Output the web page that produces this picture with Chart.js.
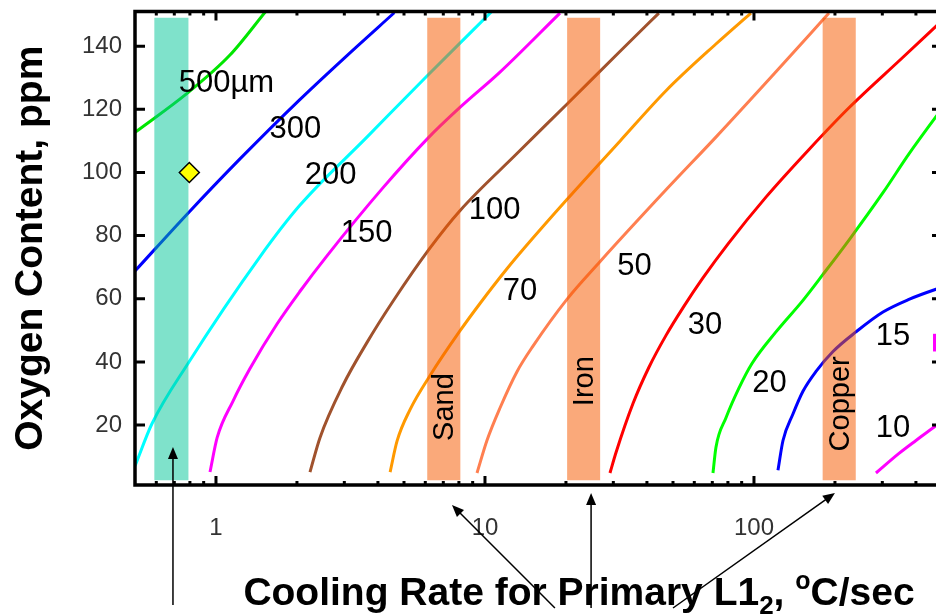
<!DOCTYPE html>
<html>
<head>
<meta charset="utf-8">
<script src="https://cdn.jsdelivr.net/npm/chart.js@4.4.1/dist/chart.umd.min.js"></script>
<style>
  html, body { margin: 0; padding: 0; background: #fff; overflow: hidden; }
  #wrap { width: 960px; height: 616px; }
</style>
</head>
<body>
<div id="wrap"><canvas id="sdasChart" width="960" height="616"></canvas></div>
<script>
// contour curves: cooling rate (°C/sec) vs oxygen content (ppm)
const curveNames = ['500µm', '300', '200', '150', '100', '70', '50', '30', '20', '15', '10'];

const rate500 = [0.5, 0.787, 1.127, 1.53];
const oxy500 = [112.7, 125.3, 137.2, 151];
const rate300 = [0.5, 0.787, 1.228, 2.05, 3.02, 4.6];
const oxy300 = [68.8, 87.1, 104.3, 123.1, 136.5, 150.6];
const rate200 = [0.5, 0.578, 0.787, 1.457, 2.05, 3.64, 6.14, 10.6];
const oxy200 = [7, 20.4, 39.5, 73.3, 89.6, 111.2, 130.9, 151];
const rate150 = [0.95, 1.01, 1.157, 1.338, 1.686, 2.05, 2.586, 4.18, 6.14, 8.07, 11.37, 19.0];
const oxy150 = [5.1, 16.0, 27.6, 37.9, 52.0, 62.3, 73.6, 95.2, 110.9, 120.6, 131.8, 150.5];
const rate100 = [2.236, 2.436, 2.966, 3.64, 4.55, 6.25, 8.07, 13.15, 20.2, 31.8, 44.3];
const oxy100 = [5.1, 16.0, 32.6, 46.1, 59.2, 76.1, 87.9, 106.0, 121.7, 138.4, 150.5];
const rate70 = [4.44, 4.71, 5.26, 6.25, 8.07, 9.58, 12.07, 14.08, 20.2, 31.8, 47.1, 72.2, 97.4];
const oxy70 = [5.1, 14.9, 24.8, 35.7, 49.8, 58.5, 69.5, 76.3, 91.5, 110.0, 125.9, 140.7, 150.5];
const rate50 = [9.34, 10.17, 11.37, 13.15, 15.08, 20.2, 26.8, 47.1, 72.2, 120.7, 190];
const oxy50 = [4.8, 15.1, 25.4, 36.9, 45.0, 59.9, 71.8, 94.5, 111.2, 131.9, 150.5];
const rate30 = [29.15, 30.7, 35.5, 40.7, 47.1, 54.5, 64.6, 80.1, 110.8, 160.2, 225.5, 358, 500];
const oxy30 = [4.8, 11.3, 26.8, 38.3, 48.4, 57.2, 66.6, 77.4, 92.2, 107.3, 120.5, 136.5, 148.1];
const rate20 = [70.4, 72.2, 78.7, 87.9, 98.3, 120.7, 152.1, 180.5, 225.5, 301.7, 376.8, 475, 500];
const oxy20 = [4.8, 12.9, 22.3, 31.7, 39.5, 49.5, 59.5, 67.7, 78.6, 93.6, 105.9, 117.7, 120.2];
const rate15 = [122.8, 128.2, 139.6, 152.1, 170.1, 196.7, 239.4, 301.7, 376.8, 475, 500];
const oxy15 = [5.7, 15.1, 23.5, 30.7, 37.0, 43.3, 49.5, 55.8, 59.8, 63.0, 63.6];
const rate10 = [284.1, 346, 400.1, 475, 500];
const oxy10 = [4.8, 11.0, 15.1, 19.8, 21.0];

// mould cooling-rate ranges
const bandNames = ['', 'Sand', 'Iron', 'Copper'];
const bandFrom = [0.59, 6.1, 20.2, 180];
const bandTo = [0.79, 8.1, 26.8, 239];
const bandLow = 2.5;
const bandHigh = 149;

// single measured point
const pointRate = [0.796];
const pointOxy = [100];

// axis ticks
const xTicks = [0.5, 0.6, 0.7, 0.8, 0.9, 1, 2, 3, 4, 5, 6, 7, 8, 9, 10, 20, 30, 40, 50, 60, 70, 80, 90, 100, 200, 300, 400, 500];
const xLabelTicks = [1, 10, 100];
const yTicks = [20, 40, 60, 80, 100, 120, 140];

const curveRates = [rate500, rate300, rate200, rate150, rate100, rate70, rate50, rate30, rate20, rate15, rate10];
const curveOxys = [oxy500, oxy300, oxy200, oxy150, oxy100, oxy70, oxy50, oxy30, oxy20, oxy15, oxy10];
const curveColors = ['#00e600', '#0000ff', '#00ffff', '#ff00ff', '#a0522d', '#ff9900', '#ff7f50', '#ff0000', '#00ff00', '#0000ff', '#ff00ff'];
const bandColors = ['rgba(0, 197, 151, 0.5)', 'rgba(246, 90, 0, 0.52)', 'rgba(246, 90, 0, 0.52)', 'rgba(246, 90, 0, 0.52)'];

const FONT = '"Liberation Sans", Arial, sans-serif';

// text notes, placed in data units
const curveNotePos = [[1.094, 128.1], [1.975, 113.7], [2.666, 99.0], [3.63, 80.8], [10.85, 88.0], [13.5, 62.3],
  [35.96, 70.2], [65.7, 51.7], [114.2, 33.2], [328.6, 48.0], [328.6, 18.8]];
const bandNoteOxy = [0, 25.7, 33.9, 26.7];
// arrows: [tail x, tail drop below axis px, tip x, tip drop below axis px]
const arrows = [[0.692, 120, 0.692, -38], [18.2, 123, 7.54, 20], [24.8, 123, 24.8, 8], [50.0, 123, 200, 8]];

function pts(xs, ys) {
  return xs.map((v, i) => ({ x: v, y: ys[i] }));
}

const datasets = [];

datasets.push({
  label: 'measured',
  data: pts(pointRate, pointOxy),
  showLine: false,
  pointStyle: 'rectRot',
  pointRadius: 10,
  pointBackgroundColor: '#ffff00',
  pointBorderColor: '#000',
  pointBorderWidth: 1.5,
  order: 0
});

bandNames.forEach((name, i) => {
  datasets.push({
    label: name || 'band',
    data: pts([bandFrom[i], bandTo[i], bandTo[i], bandFrom[i], bandFrom[i]],
              [bandLow, bandLow, bandHigh, bandHigh, bandLow]),
    fill: 'shape',
    backgroundColor: bandColors[i],
    borderColor: 'rgba(0,0,0,0)',
    borderWidth: 0,
    pointRadius: 0,
    tension: 0,
    order: 1
  });
});

curveNames.forEach((name, i) => {
  datasets.push({
    label: name,
    data: pts(curveRates[i], curveOxys[i]),
    borderColor: curveColors[i],
    borderWidth: 3,
    pointRadius: 0,
    fill: false,
    cubicInterpolationMode: 'monotone',
    order: 2
  });
});

function drawArrow(ctx, x0, y0, x1, y1) {
  const ang = Math.atan2(y1 - y0, x1 - x0);
  const head = 12, half = 5;
  const c = Math.cos(ang), s = Math.sin(ang);
  ctx.beginPath();
  ctx.moveTo(x0, y0);
  ctx.lineTo(x1 - head * c * 0.8, y1 - head * s * 0.8);
  ctx.stroke();
  ctx.beginPath();
  ctx.moveTo(x1, y1);
  ctx.lineTo(x1 - head * c + half * s, y1 - head * s - half * c);
  ctx.lineTo(x1 - head * c - half * s, y1 - head * s + half * c);
  ctx.closePath();
  ctx.fill();
}

const frameAndNotes = {
  id: 'frameAndNotes',
  afterDatasetsDraw(chart) {
    const { ctx, chartArea: a, scales: { x, y } } = chart;
    ctx.save();
    ctx.strokeStyle = '#000';
    ctx.lineWidth = 3;
    // inward ticks on all four sides
    x.ticks.forEach(t => {
      const px = x.getPixelForValue(t.value);
      if (px <= a.left + 2 || px >= a.right - 2) return;
      const len = xLabelTicks.includes(t.value) ? 9 : 4;
      ctx.beginPath();
      ctx.moveTo(px, a.bottom);
      ctx.lineTo(px, a.bottom - len);
      ctx.moveTo(px, a.top);
      ctx.lineTo(px, a.top + len);
      ctx.stroke();
    });
    y.ticks.forEach(t => {
      const py = y.getPixelForValue(t.value);
      ctx.beginPath();
      ctx.moveTo(a.left, py);
      ctx.lineTo(a.left + 10, py);
      ctx.moveTo(a.right, py);
      ctx.lineTo(a.right - 10, py);
      ctx.stroke();
    });
    ctx.lineWidth = 3.5;
    ctx.strokeRect(a.left, a.top, a.right - a.left, a.bottom - a.top);

    // cut-off magenta mark at right edge
    ctx.fillStyle = '#ff00ff';
    const mx = x.getPixelForValue(463), my = y.getPixelForValue(48.9);
    ctx.fillRect(mx, my, a.right - 2 - mx, y.getPixelForValue(43.3) - my);
    ctx.restore();
  },
  afterDraw(chart) {
    const { ctx, chartArea: a, scales: { x, y } } = chart;
    ctx.save();
    ctx.fillStyle = '#000';

    // curve labels
    ctx.font = '31px ' + FONT;
    ctx.textAlign = 'center';
    ctx.textBaseline = 'middle';
    curveNames.forEach((name, i) => {
      const p = curveNotePos[i];
      ctx.fillText(name, x.getPixelForValue(p[0]), y.getPixelForValue(p[1]));
    });

    // mould labels, rotated
    ctx.font = '29px ' + FONT;
    ctx.textBaseline = 'alphabetic';
    bandNames.forEach((name, i) => {
      if (!name) return;
      ctx.save();
      ctx.translate(x.getPixelForValue(bandTo[i]) - 7, y.getPixelForValue(bandNoteOxy[i]));
      ctx.rotate(-Math.PI / 2);
      ctx.fillText(name, 0, 0);
      ctx.restore();
    });

    // x axis title with subscript / superscript
    const parts = [
      { t: 'Cooling Rate for Primary L1', size: 39, dy: 0 },
      { t: '2', size: 26, dy: 9 },
      { t: ', ', size: 39, dy: 0 },
      { t: 'o', size: 25, dy: -16 },
      { t: 'C/sec', size: 39, dy: 0 }
    ];
    let total = 0;
    parts.forEach(p => {
      ctx.font = 'bold ' + p.size + 'px ' + FONT;
      p.w = ctx.measureText(p.t).width;
      total += p.w;
    });
    let cx = 579 - total / 2;
    ctx.textAlign = 'left';
    parts.forEach(p => {
      ctx.font = 'bold ' + p.size + 'px ' + FONT;
      ctx.fillText(p.t, cx, 605 + p.dy);
      cx += p.w;
    });

    // arrows pointing at the mould ranges
    ctx.strokeStyle = '#000';
    ctx.lineWidth = 1.5;
    arrows.forEach(ar => {
      drawArrow(ctx, x.getPixelForValue(ar[0]), a.bottom + ar[1], x.getPixelForValue(ar[2]), a.bottom + ar[3]);
    });
    ctx.restore();
  }
};

new Chart(document.getElementById('sdasChart'), {
  type: 'line',
  data: { datasets: datasets },
  options: {
    responsive: false,
    animation: false,
    devicePixelRatio: 1,
    events: [],
    layout: { padding: { left: 0, top: 7, right: 18, bottom: 0 } },
    plugins: { legend: { display: false }, tooltip: { enabled: false } },
    scales: {
      x: {
        type: 'logarithmic',
        min: 0.5,
        max: 500,
        grid: { display: false, drawTicks: false },
        border: { display: false },
        afterBuildTicks: axis => { axis.ticks = xTicks.map(v => ({ value: v })); },
        afterFit: axis => { axis.height = 131; axis.paddingLeft = 0; axis.paddingRight = 0; },
        ticks: {
          autoSkip: false,
          maxRotation: 0,
          padding: 29,
          color: '#333',
          font: { family: FONT, size: 24 },
          callback: v => xLabelTicks.includes(v) ? String(v) : ''
        }
      },
      y: {
        min: 1,
        max: 151,
        grid: { display: false, drawTicks: false },
        border: { display: false },
        afterBuildTicks: axis => { axis.ticks = yTicks.map(v => ({ value: v })); },
        afterFit: axis => { axis.width = 135; axis.paddingTop = 0; axis.paddingBottom = 0; },
        ticks: {
          padding: 13,
          color: '#333',
          font: { family: FONT, size: 24 }
        },
        title: {
          display: true,
          text: 'Oxygen Content, ppm',
          color: '#000',
          font: { family: FONT, size: 39, weight: 'bold', lineHeight: 1.2 },
          padding: { top: 8, bottom: 0 }
        }
      }
    }
  },
  plugins: [frameAndNotes]
});
</script>
</body>
</html>
